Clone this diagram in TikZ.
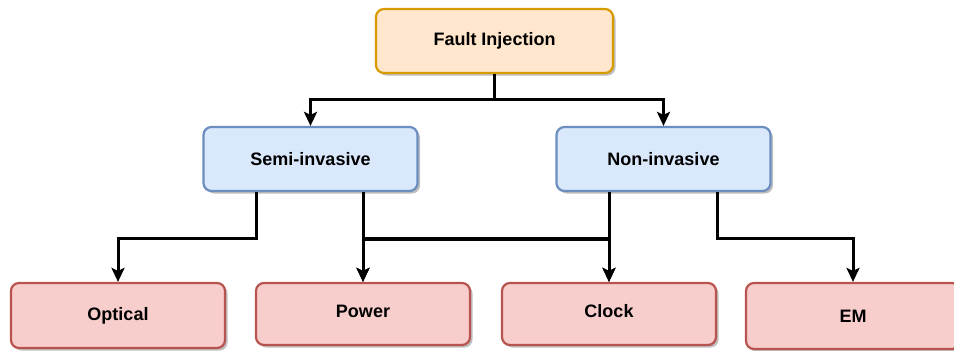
\documentclass[tikz,border=0pt]{standalone}
\usepackage{fontspec}
\setmainfont{Liberation Sans}
\usetikzlibrary{arrows.meta,calc,shadows}
\definecolor{orfill}{HTML}{FFE6CC}\definecolor{ordraw}{HTML}{D79B00}
\definecolor{blfill}{HTML}{DAE8FC}\definecolor{bldraw}{HTML}{6C8EBF}
\definecolor{rdfill}{HTML}{F8CECC}\definecolor{rddraw}{HTML}{B85450}
\tikzset{
  box/.style={rectangle, rounded corners=8pt, line width=2.2pt, minimum width=214pt,
    minimum height=64pt, inner sep=0pt, font=\fontsize{18}{21}\selectfont\bfseries,
    drop shadow={shadow xshift=2.5pt, shadow yshift=-2.5pt, opacity=0.25, fill=black}},
  topbox/.style={box, fill=orfill, draw=ordraw},
  midbox/.style={box, fill=blfill, draw=bldraw},
  leafbox/.style={box, fill=rdfill, draw=rddraw},
  conn/.style={line width=3pt, -{Stealth[length=14pt,width=13pt,inset=3pt]}},
}
\begin{document}
\begin{tikzpicture}[x=1pt,y=-1pt]
  \useasboundingbox (0,0) rectangle (954,351);
  \clip (0,0) rectangle (954,351);
  % tree of boxes
  \node[topbox, minimum width=237pt] (fault) at (494.5,41) {\raisebox{-1.5pt}{Fault Injection}};
  \node[midbox] (semi) at (310.5,159) {Semi-invasive};
  \node[midbox] (non) at (663.5,159) {Non-invasive};
  \node[leafbox, minimum height=65pt] (optical) at (118,315.5) {\raisebox{2pt}{Optical}};
  \node[leafbox, minimum height=62pt] (power) at (363,314) {\raisebox{6pt}{Power}};
  \node[leafbox, minimum height=62pt] (clock) at (609,314) {\raisebox{6pt}{Clock}};
  \node[leafbox, minimum height=66pt] (em) at (853,316) {\raisebox{-1pt}{EM}};
  % routing levels
  \coordinate (top) at (0,99);
  \coordinate (low) at (0,238);
  \coordinate (low2) at (0,239.5);
  \coordinate (s1) at ($(semi.south west)!0.25!(semi.south east)$);
  \coordinate (n2) at ($(non.south west)!0.75!(non.south east)$);
  % connectors
  \draw[conn] (fault.south) -- (fault.south |- top) -| (semi.north);
  \draw[conn] (fault.south) -- (fault.south |- top) -| (non.north);
  \draw[conn] (s1) -- (s1 |- low) -| (optical.north);
  \draw[conn] (power.north |- semi.south) -- (power.north);
  \draw[conn] (power.north |- semi.south) -- (power.north |- low) -| (clock.north);
  \draw[conn] (clock.north |- non.south) -- (clock.north);
  \draw[conn] (clock.north |- non.south) -- (clock.north |- low2) -| (power.north);
  \draw[conn] (n2) -- (n2 |- low) -| (em.north);
\end{tikzpicture}
\end{document}
